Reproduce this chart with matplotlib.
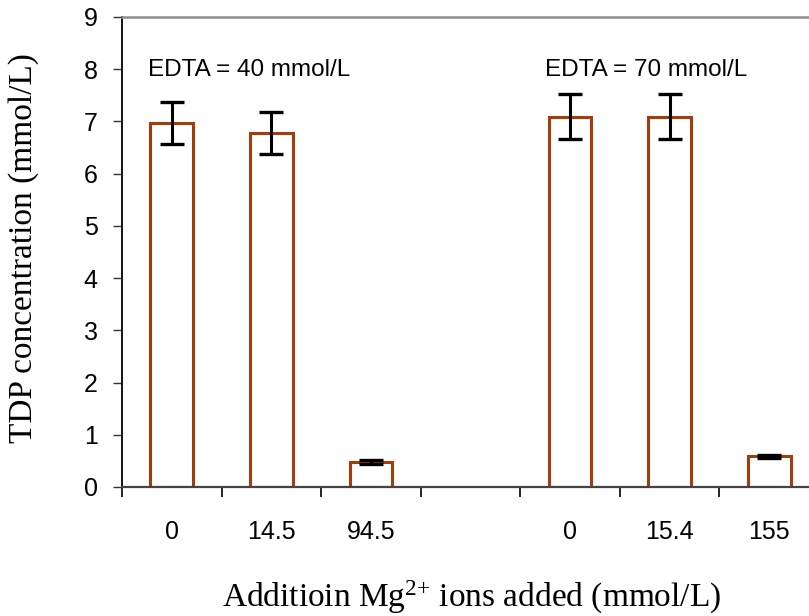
import matplotlib
matplotlib.use("Agg")
import matplotlib.pyplot as plt
import numpy as np

# Data
mg_labels = ["0", "14.5", "94.5", "", "0", "15.4", "155"]
tdp_conc = [6.97, 6.78, 0.48, None, 7.09, 7.09, 0.59]
tdp_err = [0.41, 0.40, 0.03, None, 0.43, 0.43, 0.03]
group_labels = ["EDTA = 40 mmol/L", "EDTA = 70 mmol/L"]
y_ticks = list(range(0, 10))

plt.rcParams["mathtext.fontset"] = "custom"
plt.rcParams["mathtext.rm"] = "Liberation Serif"
plt.rcParams["mathtext.it"] = "Liberation Serif:italic"

W, H = 809, 616
fig = plt.figure(figsize=(W / 100, H / 100), dpi=100)
ax = fig.add_axes([122 / W, (H - 487) / H, 697 / W, 470 / H])

x = np.arange(len(mg_labels))
idx = [i for i, v in enumerate(tdp_conc) if v is not None]
vals = [tdp_conc[i] for i in idx]
errs = [tdp_err[i] for i in idx]

bar_color = "#A33D0B"
ax.bar(idx, vals, width=0.43, facecolor="white", edgecolor=bar_color,
       linewidth=2.2, zorder=2)
ax.errorbar(idx, vals, yerr=errs, fmt="none", ecolor="black",
            elinewidth=2.2, capsize=8.3, capthick=2.4, zorder=3)

ax.set_xlim(-0.5, len(mg_labels) - 0.5)
ax.set_ylim(0, 9)

# y axis
ax.set_yticks(y_ticks)
ax.set_yticklabels([str(t) for t in y_ticks], family="Liberation Sans",
                   fontsize=18)
ax.tick_params(axis="y", direction="out", length=6.5, width=1.0,
               pad=11, color="#333333")

# x axis: ticks on category boundaries, labels at centres
ax.set_xticks(np.arange(-0.5, len(mg_labels) + 0.5, 1.0))
ax.set_xticklabels([])
ax.set_xticks(x, minor=True)
ax.set_xticklabels(mg_labels, minor=True, family="Liberation Sans",
                   fontsize=18)
ax.tick_params(axis="x", which="major", direction="out", length=7.5,
               width=1.2, color="black")
ax.tick_params(axis="x", which="minor", length=0, pad=24)

for side in ["left", "bottom", "top", "right"]:
    ax.spines[side].set_zorder(4)
ax.spines["left"].set_color("black")
ax.spines["left"].set_linewidth(1.3)
ax.spines["bottom"].set_color("#444444")
ax.spines["bottom"].set_linewidth(1.6)
ax.spines["top"].set_color("#8c8c8c")
ax.spines["top"].set_linewidth(1.8)
ax.spines["right"].set_visible(False)

# group annotations
ax.text(-0.239, 7.87, group_labels[0], family="Liberation Sans",
        fontsize=17.5, ha="left", va="baseline")
ax.text(3.747, 7.87, group_labels[1], family="Liberation Sans",
        fontsize=17.5, ha="left", va="baseline")

# axis titles
fig.text(24 / W, 1 - 248 / H, "TDP concentration (mmol/L)",
         family="Liberation Serif", fontsize=24, rotation=90,
         ha="center", va="center")
fig.text(472 / W, 1 - 597 / H, "Additioin Mg$^{2{+}}$ ions added (mmol/L)",
         family="Liberation Serif", fontsize=24, ha="center", va="center")

fig.savefig("out.png", dpi=100)
